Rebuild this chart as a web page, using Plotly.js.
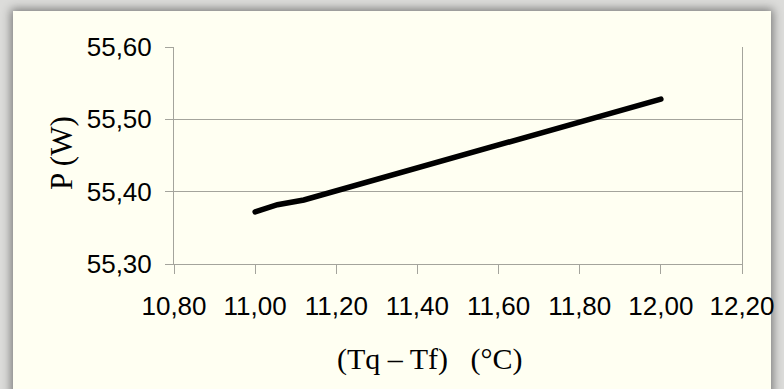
<!DOCTYPE html>
<html>
<head>
<meta charset="utf-8">
<script src="https://cdn.plot.ly/plotly-3.0.1.min.js"></script>
<style>
  html, body { margin: 0; padding: 0; width: 784px; height: 389px; overflow: hidden; background: #dcdcda; }
  #card { position: absolute; left: 13px; top: 11px; width: 758px; height: 390px;
          background: #FFFFF2; box-shadow: 0 0 9px 2px rgba(0,0,0,0.45); }
  #chart { position: absolute; left: 0; top: 0; width: 784px; height: 389px; }
  .js-line { stroke-linecap: round; }
</style>
</head>
<body>
<div id="card"></div>
<div id="chart"></div>
<script>
// Data
const tempDiff = [11.00, 11.055, 11.12, 12.00];          // (Tq – Tf) in °C
const power    = [55.372, 55.382, 55.3885, 55.528];      // P in W

const xTickVals = [10.8, 11.0, 11.2, 11.4, 11.6, 11.8, 12.0, 12.2];
const yTickVals = [55.3, 55.4, 55.5, 55.6];

const yTitle = 'P (W)';
const xTitle = '(Tq – Tf)   (°C)';

const axisGray = '#a4a49c';

const trace = {
  x: tempDiff,
  y: power,
  type: 'scatter',
  mode: 'lines',
  line: { color: '#000000', width: 5.5 },
  hoverinfo: 'skip'
};

const layout = {
  width: 784,
  height: 389,
  margin: { l: 174, r: 42, t: 47, b: 125 },
  paper_bgcolor: 'rgba(0,0,0,0)',
  plot_bgcolor: 'rgba(0,0,0,0)',
  separators: ',.',
  showlegend: false,
  font: { family: '"Liberation Sans", Arial, sans-serif', color: '#000', size: 26 },
  xaxis: {
    range: [10.8, 12.2],
    tickvals: xTickVals,
    tickformat: '.2f',
    showgrid: false,
    zeroline: false,
    showline: true,
    linecolor: axisGray,
    linewidth: 1,
    ticks: 'outside',
    ticklen: 9,
    tickcolor: axisGray,
    ticklabelstandoff: 10,
    automargin: false,
    tickfont: { size: 26, family: '"Liberation Sans", Arial, sans-serif' }
  },
  yaxis: {
    range: [55.3, 55.6],
    tickvals: yTickVals,
    tickformat: '.2f',
    showgrid: true,
    gridcolor: axisGray,
    gridwidth: 1,
    zeroline: false,
    showline: true,
    mirror: true,
    linecolor: axisGray,
    linewidth: 1,
    ticks: 'outside',
    ticklen: 8,
    tickcolor: axisGray,
    ticklabelstandoff: 8,
    automargin: false,
    tickfont: { size: 26, family: '"Liberation Sans", Arial, sans-serif' }
  },
  annotations: [
    {
      text: xTitle,
      xref: 'paper', yref: 'paper',
      x: 0.451, y: -0.44,
      xanchor: 'center', yanchor: 'middle',
      showarrow: false,
      font: { family: '"Liberation Serif", "Times New Roman", serif', size: 30, color: '#000' }
    },
    {
      text: yTitle,
      xref: 'paper', yref: 'paper',
      x: -0.197, y: 0.512,
      xanchor: 'center', yanchor: 'middle',
      textangle: -90,
      showarrow: false,
      font: { family: '"Liberation Serif", "Times New Roman", serif', size: 31, color: '#000' }
    }
  ]
};

Plotly.newPlot('chart', [trace], layout, { staticPlot: true, displayModeBar: false });
</script>
</body>
</html>
